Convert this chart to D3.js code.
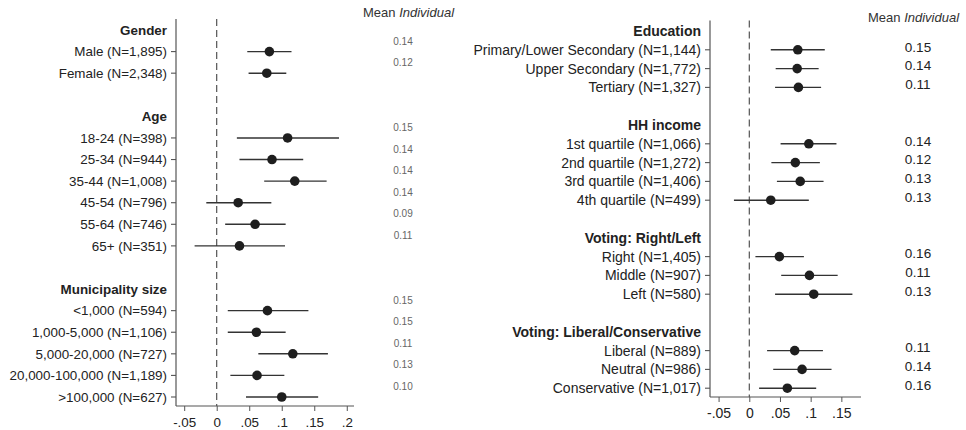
<!DOCTYPE html>
<html><head><meta charset="utf-8">
<script src="https://cdn.jsdelivr.net/npm/d3@7"></script>
<style>
body{margin:0;background:#fff;}
svg{display:block;font-family:"Liberation Sans",Arial,Helvetica,sans-serif;}
</style></head>
<body><svg id="chart" width="966" height="430"></svg>
<script>
// ---------- DATA ----------
const leftHeaders = ["Gender", "Age", "Municipality size"];
const leftLabels = ["Male (N=1,895)", "Female (N=2,348)",
  "18-24 (N=398)", "25-34 (N=944)", "35-44 (N=1,008)", "45-54 (N=796)", "55-64 (N=746)", "65+ (N=351)",
  "<1,000 (N=594)", "1,000-5,000 (N=1,106)", "5,000-20,000 (N=727)", "20,000-100,000 (N=1,189)", ">100,000 (N=627)"];
const leftGroup = [0, 0, 1, 1, 1, 1, 1, 1, 2, 2, 2, 2, 2];
const leftEst = [0.081, 0.077, 0.109, 0.085, 0.120, 0.033, 0.059, 0.035, 0.078, 0.061, 0.117, 0.062, 0.100];
const leftLo  = [0.047, 0.049, 0.031, 0.035, 0.073, -0.016, 0.013, -0.034, 0.017, 0.017, 0.064, 0.021, 0.045];
const leftHi  = [0.115, 0.107, 0.188, 0.133, 0.169, 0.084, 0.106, 0.105, 0.141, 0.106, 0.171, 0.104, 0.156];
const leftMean = ["0.14", "0.12", "0.15", "0.14", "0.14", "0.14", "0.09", "0.11", "0.15", "0.15", "0.11", "0.13", "0.10"];
const leftTicks = [-0.05, 0, 0.05, 0.1, 0.15, 0.2];

const rightHeaders = ["Education", "HH income", "Voting: Right/Left", "Voting: Liberal/Conservative"];
const rightLabels = ["Primary/Lower Secondary (N=1,144)", "Upper Secondary (N=1,772)", "Tertiary (N=1,327)",
  "1st quartile (N=1,066)", "2nd quartile (N=1,272)", "3rd quartile (N=1,406)", "4th quartile (N=499)",
  "Right (N=1,405)", "Middle (N=907)", "Left (N=580)",
  "Liberal (N=889)", "Neutral (N=986)", "Conservative (N=1,017)"];
const rightGroup = [0, 0, 0, 1, 1, 1, 1, 2, 2, 2, 3, 3, 3];
const rightEst = [0.079, 0.078, 0.080, 0.097, 0.075, 0.083, 0.035, 0.049, 0.098, 0.105, 0.074, 0.086, 0.062];
const rightLo  = [0.035, 0.043, 0.042, 0.051, 0.036, 0.045, -0.025, 0.010, 0.052, 0.042, 0.029, 0.039, 0.016];
const rightHi  = [0.123, 0.113, 0.117, 0.142, 0.115, 0.121, 0.097, 0.089, 0.144, 0.168, 0.120, 0.134, 0.109];
const rightMean = ["0.15", "0.14", "0.11", "0.14", "0.12", "0.13", "0.13", "0.16", "0.11", "0.13", "0.11", "0.14", "0.16"];
const rightTicks = [-0.05, 0, 0.05, 0.1, 0.15];

// ---------- HELPERS ----------
function buildRows(headers, labels, groups, est, lo, hi, mean) {
  const rows = [];
  headers.forEach((h, g) => {
    if (g > 0) rows.push({type: "blank"});
    rows.push({type: "header", label: h});
    labels.forEach((l, i) => {
      if (groups[i] === g) rows.push({type: "item", label: l, est: est[i], lo: lo[i], hi: hi[i], mean: mean[i]});
    });
  });
  rows.forEach((r, i) => r.idx = i);
  return rows;
}
const fmtTick = v => v === 0 ? "0" : (v < 0 ? "-" : "") + String(Math.abs(v)).replace(/^0/, "");

const svg = d3.select("#chart");

function drawPanel(cfg) {
  const rows = buildRows(cfg.headers, cfg.labels, cfg.groups, cfg.est, cfg.lo, cfg.hi, cfg.mean);
  const x = d3.scaleLinear().domain(cfg.xDomain).range([cfg.axisX, cfg.axisXEnd]);
  const y = d3.scaleLinear().domain([0, rows.length - 1]).range([cfg.yFirst, cfg.yLast]);
  const g = svg.append("g");

  g.append("line").attr("x1", cfg.axisX).attr("x2", cfg.axisX)
    .attr("y1", cfg.axisTop).attr("y2", cfg.axisBottom)
    .attr("stroke", "#555").attr("stroke-width", 1.2);

  g.append("line").attr("x1", x(0)).attr("x2", x(0))
    .attr("y1", cfg.axisTop).attr("y2", cfg.axisBottom)
    .attr("stroke", "#444").attr("stroke-width", 1.1).attr("stroke-dasharray", "7,4");

  const xAxis = d3.axisBottom(x).tickValues(cfg.ticks).tickSize(5).tickSizeOuter(0).tickFormat(fmtTick);
  const ax = g.append("g").attr("transform", `translate(0,${cfg.axisBottom})`).call(xAxis);
  ax.select(".domain").attr("stroke", "#555").attr("stroke-width", 1.2)
    .attr("d", `M${cfg.axisX},0H${cfg.axisXEnd}`);
  ax.selectAll(".tick line").attr("stroke", "#555");
  ax.selectAll(".tick text").attr("font-size", cfg.tickFont).attr("fill", "#222")
    .attr("font-family", '"Liberation Sans",Arial,sans-serif').attr("dy", "0.95em");

  const items = rows.filter(r => r.type === "item");
  const headers = rows.filter(r => r.type === "header");
  g.selectAll(".hdr").data(headers).join("text")
    .attr("x", cfg.axisX - 9).attr("y", d => y(d.idx)).attr("dy", "0.35em")
    .attr("text-anchor", "end").attr("font-size", cfg.labelFont).attr("font-weight", "bold").attr("fill", "#222")
    .text(d => d.label);
  g.selectAll(".lbl").data(items).join("text")
    .attr("x", cfg.axisX - 9).attr("y", d => y(d.idx)).attr("dy", "0.35em")
    .attr("text-anchor", "end").attr("font-size", cfg.labelFont).attr("fill", "#222")
    .text(d => d.label);
  g.selectAll(".ytick").data(items).join("line")
    .attr("x1", cfg.axisX - 5).attr("x2", cfg.axisX)
    .attr("y1", d => y(d.idx)).attr("y2", d => y(d.idx))
    .attr("stroke", "#555").attr("stroke-width", 1.1);

  g.selectAll(".ci").data(items).join("line")
    .attr("x1", d => x(d.lo)).attr("x2", d => x(d.hi))
    .attr("y1", d => y(d.idx)).attr("y2", d => y(d.idx))
    .attr("stroke", "#333").attr("stroke-width", 1.4);
  g.selectAll(".pt").data(items).join("circle")
    .attr("cx", d => x(d.est)).attr("cy", d => y(d.idx)).attr("r", 4.8)
    .attr("fill", "#1e1e1e");

  const mt = g.append("text").attr("x", cfg.meanTitleX).attr("y", cfg.meanTitleY)
    .attr("font-size", 13).attr("fill", "#333");
  mt.append("tspan").text("Mean ");
  mt.append("tspan").attr("font-style", "italic").text("Individual");
  g.selectAll(".mean").data(items).join("text")
    .attr("x", cfg.meanX).attr("y", d => y(d.idx) + cfg.meanOffset).attr("dy", "0.35em")
    .attr("text-anchor", "middle").attr("font-size", cfg.meanFont).attr("fill", cfg.meanColor)
    .text(d => d.mean);
}

drawPanel({
  headers: leftHeaders, labels: leftLabels, groups: leftGroup, est: leftEst, lo: leftLo, hi: leftHi, mean: leftMean,
  ticks: leftTicks, xDomain: [-0.0626, 0.2111], axisX: 176, axisXEnd: 354,
  yFirst: 30, yLast: 397, axisTop: 19, axisBottom: 406,
  labelFont: 13.4, tickFont: 13.4,
  meanTitleX: 363, meanTitleY: 17, meanX: 403, meanOffset: -10.5, meanFont: 10, meanColor: "#666"
});
drawPanel({
  headers: rightHeaders, labels: rightLabels, groups: rightGroup, est: rightEst, lo: rightLo, hi: rightHi, mean: rightMean,
  ticks: rightTicks, xDomain: [-0.064, 0.182], axisX: 710, axisXEnd: 861,
  yFirst: 31, yLast: 388.2, axisTop: 20.5, axisBottom: 397,
  labelFont: 14, tickFont: 14,
  meanTitleX: 868, meanTitleY: 22, meanX: 918, meanOffset: -3, meanFont: 13.5, meanColor: "#222"
});
</script></body></html>
